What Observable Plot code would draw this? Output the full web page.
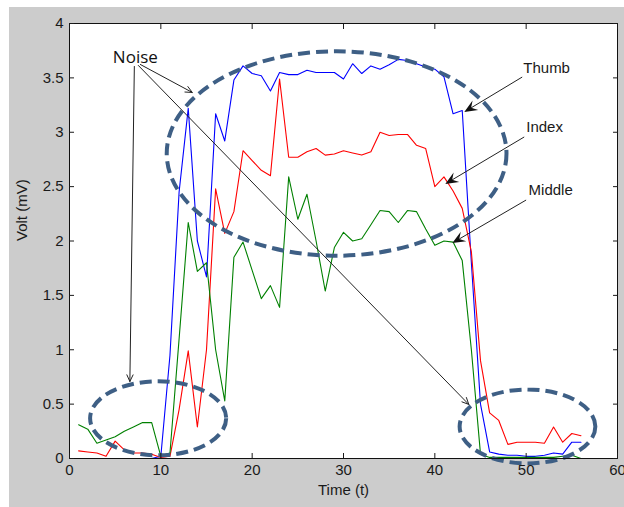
<!DOCTYPE html>
<html><head><meta charset="utf-8">
<script src="https://cdn.jsdelivr.net/npm/d3@7"></script>
<script src="https://cdn.jsdelivr.net/npm/@observablehq/plot@0.6"></script>
<style>
html,body{margin:0;padding:0;background:#fff;width:624px;height:507px;overflow:hidden;}
#chart{position:absolute;left:9px;top:7px;}
#chart svg{display:block;}
</style></head><body><div id="chart"></div>
<script>
// ---- data ----
const time = [1,2,3,4,5,6,7,8,9,10,11,12,13,14,15,16,17,18,19,20,21,22,23,24,25,26,27,28,29,30,31,32,33,34,35,36,37,38,39,40,41,42,43,44,45,46,47,48,49,50,51,52,53,54,55,56];
const thumb = [0,0,0,0,0,0,0,0,0,0.02, 0.95,2.45,3.22,2.0,1.67,3.17,2.92,3.48,3.61,3.54, 3.52,3.38,3.55,3.53,3.53,3.57,3.55,3.55,3.55,3.49, 3.63,3.54,3.61,3.58,3.62,3.67,3.66,3.63,3.6,3.58, 3.51,3.17,3.2,1.8,0.5,0.06,0.04,0.03,0.03,0.02, 0.02,0.03,0.05,0.04,0.15,0.15];
const indexF = [0.07,0.06,0.05,0.02,0.16,0.08,0.05,0.05,0.04,0.01, 0.02,0.45,0.99,0.29,1.0,2.48,2.07,2.27,2.83,2.74, 2.65,2.6,3.49,2.77,2.77,2.82,2.85,2.79,2.8,2.83, 2.81,2.79,2.82,3.0,2.97,2.98,2.98,2.88,2.85,2.5, 2.59,2.46,2.3,1.9,0.9,0.42,0.35,0.13,0.15,0.15, 0.15,0.14,0.29,0.15,0.23,0.21];
const middle = [0.31,0.27,0.14,0.17,0.2,0.25,0.29,0.33,0.33,0.02, 0.05,1.1,2.17,1.72,1.8,1.0,0.53,1.85,1.99,1.73, 1.47,1.59,1.39,2.59,2.2,2.43,2.0,1.54,1.94,2.08, 2.0,2.02,2.15,2.28,2.27,2.17,2.28,2.27,2.11,1.96, 2.0,1.99,1.82,1.0,0.04,0.01,0.01,0.01,0.01,0.01, 0.01,0.01,0.01,0.02,0.03,0.0];

const seriesNames = ["Thumb","Index","Middle"];
const seriesColors = ["#0000ff","#ff0000","#008000"];
const xTicks = [0,10,20,30,40,50,60];
const yTicks = [0,0.5,1,1.5,2,2.5,3,3.5,4];
const yTickLabels = ["0","0.5","1","1.5","2","2.5","3","3.5","4"];

// annotation ellipses (data units)
const ellipseCx = [29.3, 9.76, 50.2];
const ellipseCy = [2.80, 0.365, 0.29];
const ellipseRx = [18.6, 7.45, 7.43];
const ellipseRy = [0.94, 0.34, 0.34];

// "Noise" label and its arrows
const noiseText = ["Noise"];
const noiseTextT = [7.21];
const noiseTextV = [3.69];
const noiseFromT = [7.10, 7.76, 7.54];
const noiseFromV = [3.605, 3.623, 3.614];
const noiseToT = [6.61, 13.44, 43.72];
const noiseToV = [0.708, 3.366, 0.497];

// finger labels and their arrows
const labelT = [52.24, 52.02, 52.68];
const labelV = [3.586, 3.044, 2.464];
const arrowFromT = [49.62, 49.84, 50.05];
const arrowFromV = [3.503, 2.952, 2.372];
const arrowToT = [43.28, 41.2, 41.97];
const arrowToV = [3.182, 2.52, 1.977];

// ---- tables ----
const seriesValues = [thumb, indexF, middle];
const table = [];
seriesNames.forEach((s, k) => time.forEach((t, i) => table.push({s, t, v: seriesValues[k][i]})));
const noiseArrows = noiseFromT.map((d, i) => ({x1: d, y1: noiseFromV[i], x2: noiseToT[i], y2: noiseToV[i]}));
const labels = seriesNames.map((s, i) => ({s, t: labelT[i], v: labelV[i]}));

function annotations(index, scales) {
  const {x, y} = scales;
  const g = d3.create("svg:g");
  ellipseCx.forEach((cx, i) => {
    g.append("ellipse")
      .attr("cx", x(cx)).attr("cy", y(ellipseCy[i]))
      .attr("rx", x(cx + ellipseRx[i]) - x(cx))
      .attr("ry", y(ellipseCy[i] - ellipseRy[i]) - y(ellipseCy[i]))
      .attr("fill", "none").attr("stroke", "#3e5f85")
      .attr("stroke-width", 4).attr("stroke-dasharray", "12,6");
  });
  arrowFromT.forEach((ft, i) => {
    const x1 = x(ft), y1 = y(arrowFromV[i]), x2 = x(arrowToT[i]), y2 = y(arrowToV[i]);
    const len = Math.hypot(x2 - x1, y2 - y1), ux = (x2 - x1) / len, uy = (y2 - y1) / len;
    const nx = -uy, ny = ux, L = 13, W = 5.5, N = 8;
    g.append("line").attr("x1", x1).attr("y1", y1)
      .attr("x2", x2 - ux * N).attr("y2", y2 - uy * N)
      .attr("stroke", "#222").attr("stroke-width", 1);
    const pts = [[x2, y2], [x2 - ux * L + nx * W, y2 - uy * L + ny * W], [x2 - ux * N, y2 - uy * N], [x2 - ux * L - nx * W, y2 - uy * L - ny * W]];
    g.append("polygon").attr("points", pts.map(p => p.join(",")).join(" ")).attr("fill", "#111");
  });
  return g.node();
}

const chart = Plot.plot({
  width: 615, height: 500,
  marginLeft: 60, marginRight: 7, marginTop: 16, marginBottom: 49,
  style: {background: "#cccccc", fontFamily: "'Liberation Sans', Arial, sans-serif", fontSize: "14px", overflow: "visible"},
  x: {domain: [0, 60], label: null},
  y: {domain: [0, 4], label: null},
  color: {domain: seriesNames, range: seriesColors},
  marks: [
    Plot.frame({fill: "white"}),
    Plot.line(table, {x: "t", y: "v", z: "s", stroke: "s", strokeWidth: 1.1}),
    annotations,
    Plot.arrow(noiseArrows, {x1: "x1", y1: "y1", x2: "x2", y2: "y2", stroke: "#222", strokeWidth: 1, headLength: 11, headAngle: 50}),
    Plot.text(noiseText, {x: noiseTextT, y: noiseTextV, text: d => d, fontFamily: "'Open Sans', sans-serif", fontSize: 17, fill: "#111"}),
    Plot.text(labels, {x: "t", y: "v", text: "s", fontSize: 15, fill: "#1a1a1a"}),
    Plot.frame({stroke: "#111"}),
    Plot.axisX({ticks: xTicks, anchor: "bottom", tickSize: 5, dy: -5, tickPadding: 6, color: "#1a1a1a", fontSize: 15, label: null}),
    Plot.axisX({ticks: xTicks, anchor: "top", tickSize: 5, dy: 5, tickFormat: () => "", color: "#1a1a1a", label: null}),
    Plot.axisY({ticks: yTicks, anchor: "left", tickSize: 5, dx: 5, tickPadding: 6, tickFormat: d => yTickLabels[yTicks.indexOf(d)], color: "#1a1a1a", fontSize: 15, label: null}),
    Plot.axisY({ticks: yTicks, anchor: "right", tickSize: 5, dx: -5, tickFormat: () => "", color: "#1a1a1a", label: null}),
    Plot.text(["Time (t)"], {text: d => d, frameAnchor: "bottom", dy: 36, fontSize: 15, fill: "#1a1a1a"}),
    Plot.text(["Volt (mV)"], {text: d => d, frameAnchor: "left", dx: -47, rotate: -90, fontSize: 15, fill: "#1a1a1a"})
  ]
});
document.getElementById("chart").appendChild(chart);
</script></body></html>
